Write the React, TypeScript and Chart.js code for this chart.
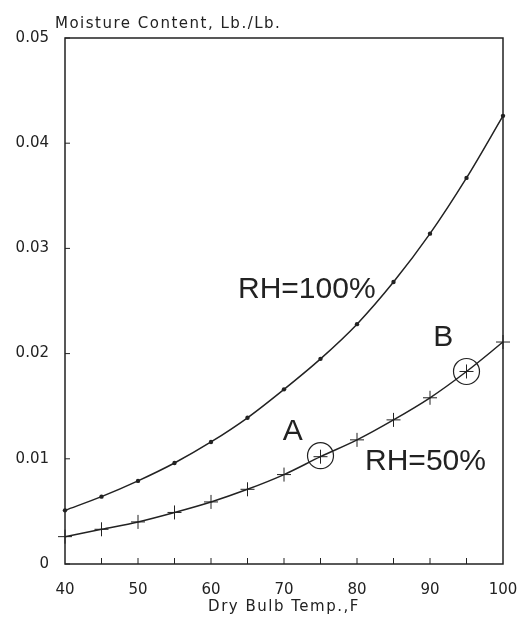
import React, { useEffect, useRef } from "react";
import { Chart, registerables } from "chart.js";

Chart.register(...registerables);

const temps = [40, 45, 50, 55, 60, 65, 70, 75, 80, 85, 90, 95, 100];
const rh100 = [0.0051, 0.0064, 0.0079, 0.0096, 0.0116, 0.0139, 0.0166, 0.0195, 0.0228, 0.0268, 0.0314, 0.0367, 0.0426];
const rh50 = [0.0026, 0.0033, 0.004, 0.0049, 0.0059, 0.0071, 0.0085, 0.0102, 0.0118, 0.0137, 0.0158, 0.0183, 0.0211];
const yTicks = [0, 0.01, 0.02, 0.03, 0.04, 0.05];
const minorX = [45, 50, 55, 60, 65, 70, 75, 80, 85, 90, 95];
const circled = [
  { x: 75, y: 0.0103 },
  { x: 95, y: 0.0183 },
];
const labels = [
  { text: "RH=100%", x: 63.7, y: 0.0261, size: 30, align: "left" },
  { text: "RH=50%", x: 81.1, y: 0.0097, size: 30, align: "left" },
  { text: "A", x: 71.2, y: 0.0126, size: 30, align: "center" },
  { text: "B", x: 91.8, y: 0.0215, size: 30, align: "center" },
];
const yTitle = "Moisture Content, Lb./Lb.";
const xTitle = "Dry Bulb Temp.,F";

const INK = "#222";

const decor = {
  id: "decor",
  afterDraw(chart: any) {
    const ctx = chart.ctx;
    const a = chart.chartArea;
    const xs = chart.scales.x;
    const ys = chart.scales.y;
    ctx.save();
    ctx.strokeStyle = INK;
    ctx.lineWidth = 1.5;
    ctx.strokeRect(a.left, a.top, a.right - a.left, a.bottom - a.top);
    ctx.lineWidth = 1;
    ctx.beginPath();
    for (const t of minorX) {
      const px = xs.getPixelForValue(t);
      ctx.moveTo(px, a.bottom);
      ctx.lineTo(px, a.bottom - 6);
    }
    for (const t of yTicks) {
      const py = ys.getPixelForValue(t);
      ctx.moveTo(a.left, py);
      ctx.lineTo(a.left + 5, py);
    }
    ctx.stroke();
    // circles
    ctx.lineWidth = 1.2;
    for (const c of circled) {
      ctx.beginPath();
      ctx.arc(xs.getPixelForValue(c.x), ys.getPixelForValue(c.y), 13, 0, Math.PI * 2);
      ctx.stroke();
    }
    // annotation text
    ctx.fillStyle = INK;
    ctx.textBaseline = "middle";
    for (const l of labels) {
      ctx.font = `${l.size}px "Liberation Sans", Arial, sans-serif`;
      ctx.textAlign = l.align;
      ctx.fillText(l.text, xs.getPixelForValue(l.x), ys.getPixelForValue(l.y));
    }
    // axis titles
    ctx.font = '15px "DejaVu Sans", sans-serif';
    (ctx as any).letterSpacing = "1.5px";
    ctx.textAlign = "left";
    ctx.textBaseline = "middle";
    ctx.fillText(yTitle, 55, 24);
    ctx.textAlign = "center";
    ctx.fillText(xTitle, (a.left + a.right) / 2, 607);
    ctx.restore();
  },
};

export default function App() {
  const ref = useRef<HTMLCanvasElement>(null);
  useEffect(() => {
    const canvas = ref.current!;
    const chart = new Chart(canvas, {
      type: "line",
      data: {
        datasets: [
          {
            label: "RH=100%",
            data: temps.map((t, i) => ({ x: t, y: rh100[i] })),
            borderColor: INK,
            backgroundColor: INK,
            borderWidth: 1.5,
            pointStyle: "circle",
            pointRadius: 2.2,
            pointBorderWidth: 0,
            cubicInterpolationMode: "monotone",
            clip: false as any,
          },
          {
            label: "RH=50%",
            data: temps.map((t, i) => ({ x: t, y: rh50[i] })),
            borderColor: INK,
            backgroundColor: INK,
            borderWidth: 1.5,
            pointStyle: "cross",
            pointRadius: 7,
            pointBorderWidth: 1,
            cubicInterpolationMode: "monotone",
            clip: false as any,
          },
        ],
      },
      options: {
        animation: false,
        responsive: false,
        devicePixelRatio: 1,
        layout: { padding: { top: 38, right: 28, left: 0, bottom: 0 } },
        plugins: { legend: { display: false }, tooltip: { enabled: false } },
        scales: {
          x: {
            type: "linear",
            min: 40,
            max: 100,
            grid: { display: false },
            border: { display: false },
            ticks: {
              stepSize: 10,
              color: INK,
              padding: 9,
              font: { family: "DejaVu Sans", size: 15 },
            },
            afterFit: (s: any) => {
              s.height = 54;
            },
          },
          y: {
            min: 0,
            max: 0.05,
            grid: { display: false },
            border: { display: false },
            ticks: {
              stepSize: 0.01,
              color: INK,
              padding: 8,
              font: { family: "DejaVu Sans", size: 15 },
              callback: (v: any) => (v === 0 ? "0" : Number(v).toFixed(2)),
            },
            afterFit: (s: any) => {
              s.width = 65;
            },
          },
        },
      },
      plugins: [decor],
    } as any);
    return () => chart.destroy();
  }, []);
  return (
    <div style={{ position: "fixed", left: 0, top: 0, width: 531, height: 618, background: "#fff" }}>
      <canvas ref={ref} width={531} height={618} />
    </div>
  );
}
